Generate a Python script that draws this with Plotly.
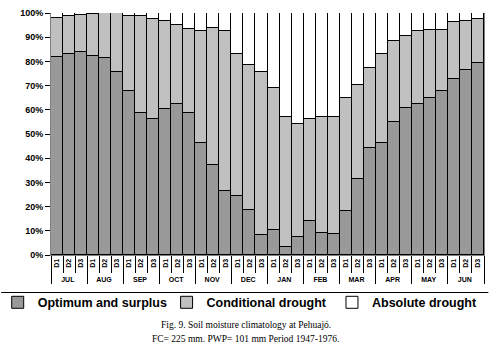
import plotly.graph_objects as go

months = ["JUL", "AUG", "SEP", "OCT", "NOV", "DEC", "JAN", "FEB", "MAR", "APR", "MAY", "JUN"]
dekads = ["D1", "D2", "D3"]

optimum = [81.9, 83.0, 83.9, 82.3, 81.5, 75.6, 67.8, 58.7, 56.0, 60.4, 62.3, 58.7,
           46.1, 37.2, 26.3, 24.3, 18.7, 8.2, 10.5, 3.3, 7.5, 13.9, 8.9, 8.5,
           18.1, 31.6, 44.2, 46.1, 55.0, 60.9, 62.5, 65.0, 67.8, 72.7, 76.3, 79.4]
conditional = [16.1, 15.6, 15.1, 17.2, 18.4, 24.3, 30.8, 39.9, 41.5, 36.1, 32.9, 34.5,
               46.3, 56.8, 66.4, 58.9, 59.8, 67.4, 58.5, 53.9, 46.8, 42.2, 48.3, 48.7,
               46.9, 38.8, 33.2, 37.0, 33.3, 29.7, 29.9, 28.1, 25.3, 23.4, 20.5, 18.3]
absolute = [2.0, 1.4, 1.0, 0.5, 0.1, 0.1, 1.4, 1.4, 2.5, 3.5, 4.8, 6.8,
            7.6, 6.0, 7.3, 16.8, 21.5, 24.4, 31.0, 42.8, 45.7, 43.9, 42.8, 42.8,
            35.0, 29.6, 22.6, 16.9, 11.7, 9.4, 7.6, 6.9, 6.9, 3.9, 3.2, 2.3]

series_names = ["Optimum and surplus", "Conditional drought", "Absolute drought"]
series_colors = ["#999999", "#c0c0c0", "#ffffff"]
legend_ids = ["legend", "legend2", "legend3"]
legend_x = [-0.1, 0.29, 0.672]
y_ticks = [0, 10, 20, 30, 40, 50, 60, 70, 80, 90, 100]
y_tick_text = [f"{v}%" for v in y_ticks]

x_outer = [m for m in months for _ in dekads]
x_inner = [d for _ in months for d in dekads]

fig = go.Figure()
for name, vals, col, lg in zip(series_names, [optimum, conditional, absolute], series_colors, legend_ids):
    fig.add_trace(go.Bar(
        x=[x_outer, x_inner], y=vals, name=name, legend=lg, showlegend=True,
        marker=dict(color=col, line=dict(color="#000000", width=1)),
    ))

legend_common = dict(orientation="h", y=-0.197, xanchor="left", yanchor="middle",
                     font=dict(size=12.5, weight="bold"), itemclick=False,
                     indentation=-10, bgcolor="rgba(0,0,0,0)")
legends = {lg: dict(x=lx, **legend_common) for lg, lx in zip(legend_ids, legend_x)}

fig.update_layout(
    width=493, height=358,
    showlegend=True,
    margin=dict(l=50, r=8, t=11, b=103),
    paper_bgcolor="white", plot_bgcolor="white",
    barmode="stack", bargap=0,
    font=dict(family="Arial, Liberation Sans, sans-serif", color="#000000"),
    xaxis=dict(
        type="multicategory", showline=True, linecolor="#808080", linewidth=1,
        ticks="outside", tickson="boundaries", ticklen=17, tickcolor="#000000",
        tickangle=-90, tickfont=dict(size=7, weight="bold"),
        showdividers=True, dividercolor="#000000", dividerwidth=1,
        showgrid=False, zeroline=False,
    ),
    yaxis=dict(
        range=[0, 100], tickmode="array", tickvals=y_ticks, ticktext=y_tick_text,
        showline=True, linecolor="#808080", linewidth=1, mirror=True,
        ticks="outside", ticklen=5, tickcolor="#000000",
        tickfont=dict(size=9, weight="bold"),
        showgrid=False, zeroline=False,
    ),
    shapes=[dict(type="line", xref="paper", yref="paper", x0=-0.115, x1=1.01,
                 y0=-0.155, y1=-0.155, line=dict(color="#000000", width=1))],
    annotations=[
        dict(text="Fig. 9. Soil moisture climatology at Pehuajó.", xref="paper", yref="paper",
             x=0.45, y=-0.291, showarrow=False, xanchor="center", yanchor="middle",
             font=dict(family="Liberation Serif, Times New Roman, serif", size=9.5)),
        dict(text="FC= 225 mm. PWP= 101 mm Period 1947-1976.", xref="paper", yref="paper",
             x=0.45, y=-0.348, showarrow=False, xanchor="center", yanchor="middle",
             font=dict(family="Liberation Serif, Times New Roman, serif", size=9.5)),
    ],
    **legends,
)

fig.write_html("out.html", config={"displayModeBar": False},
               post_script="document.body.style.margin='0';")
